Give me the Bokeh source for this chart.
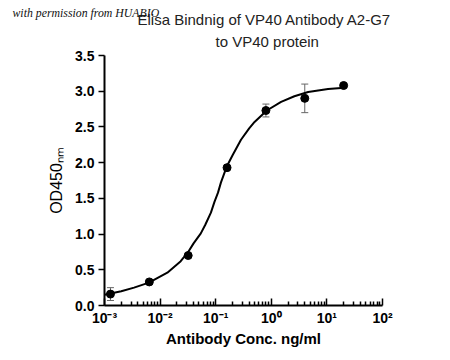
from bokeh.plotting import figure
from bokeh.models import FixedTicker, Whisker, ColumnDataSource, TeeHead, Title
from bokeh.embed import file_html
from bokeh.resources import INLINE

# ---- data ----
conc = [0.00128, 0.0064, 0.032, 0.16, 0.8, 4.0, 20.0]
od = [0.16, 0.33, 0.70, 1.93, 2.73, 2.90, 3.08]
sd = [0.09, 0.02, 0.02, 0.02, 0.09, 0.20, 0.02]

curve_x = [0.001, 0.002, 0.0034, 0.0063, 0.0135, 0.0235, 0.032, 0.04, 0.054, 0.065,
           0.082, 0.095, 0.11, 0.124, 0.159, 0.2, 0.285, 0.4, 0.5, 0.83,
           1.5, 2.6, 4.6, 10.5, 20.8]
curve_y = [0.15, 0.20, 0.25, 0.32, 0.46, 0.62, 0.75, 0.87, 1.01, 1.13,
           1.30, 1.45, 1.58, 1.72, 1.95, 2.10, 2.32, 2.48, 2.57, 2.73,
           2.85, 2.93, 2.99, 3.03, 3.05]

x_ticks = [1e-3, 1e-2, 1e-1, 1.0, 10.0, 100.0]
x_tick_labels = ["10\u207b\u00b3", "10\u207b\u00b2", "10\u207b\u00b9", "10\u2070", "10\u00b9", "10\u00b2"]
y_ticks = [0.0, 0.5, 1.0, 1.5, 2.0, 2.5, 3.0, 3.5]
y_tick_labels = ["0.0", "0.5", "1.0", "1.5", "2.0", "2.5", "3.0", "3.5"]

title_1 = "Elisa Bindnig of VP40 Antibody A2-G7"
title_2 = "to VP40 protein"
watermark = "with permission from HUABIO"
x_label = "Antibody Conc. ng/ml"
y_label = "OD450\u2099\u2098"

# ---- layout ----
FL, FR, FT, FB = 104, 66, 55, 53
FW, FH = 278, 250
p = figure(x_axis_type="log", x_range=(1e-3, 1e2), y_range=(0, 3.5),
           frame_width=FW, frame_height=FH,
           min_border_left=FL, min_border_right=FR,
           min_border_top=FT, min_border_bottom=FB,
           output_backend="svg", toolbar_location=None)
p.outline_line_color = None
p.xgrid.visible = False
p.ygrid.visible = False

# header texts: watermark (outermost), title line 1, title line 2 (closest to plot)
p.title.text = watermark
p.title.align = "left"
p.title.offset = -92
p.title.text_font = "Liberation Serif"
p.title.text_font_size = "11.8px"
p.title.text_font_style = "italic"
p.title.text_color = "#111111"
p.title.standoff = -15
p.add_layout(Title(text=title_2, align="left", offset=111, text_font="Liberation Sans",
                   text_font_size="15px", text_font_style="normal",
                   text_color="#222222", standoff=12), "above")
p.add_layout(Title(text=title_1, align="left", offset=33, text_font="Liberation Sans",
                   text_font_size="15px", text_font_style="normal",
                   text_color="#222222", standoff=-7), "above")

minor = [m * 10.0 ** e for e in range(-3, 2) for m in range(2, 10)]
p.xaxis.ticker = FixedTicker(ticks=x_ticks, minor_ticks=minor)
p.xaxis.major_label_overrides = {t: s for t, s in zip(x_ticks, x_tick_labels)}
p.yaxis.ticker = FixedTicker(ticks=y_ticks)
p.yaxis.major_label_overrides = {t: s for t, s in zip(y_ticks, y_tick_labels)}

for ax in (p.xaxis[0], p.yaxis[0]):
    ax.axis_line_width = 2
    ax.axis_line_color = "black"
    ax.major_tick_line_width = 1.5
    ax.minor_tick_line_width = 1.5
    ax.major_label_text_font = "Liberation Sans"
    ax.major_label_text_font_style = "bold"
    ax.major_label_text_font_size = "14px"
    ax.major_label_text_color = "black"

p.xaxis.major_tick_in = 7
p.xaxis.major_tick_out = 0
p.xaxis.minor_tick_in = 4
p.xaxis.minor_tick_out = 0
p.xaxis.major_label_standoff = 4
p.xaxis.axis_label = x_label
p.xaxis.axis_label_text_font = "Liberation Sans"
p.xaxis.axis_label_text_font_size = "15px"
p.xaxis.axis_label_text_font_style = "bold"
p.xaxis.axis_label_text_color = "black"
p.xaxis.axis_label_standoff = 1

p.yaxis.major_tick_in = 0
p.yaxis.major_tick_out = 6
p.yaxis.minor_tick_in = 0
p.yaxis.minor_tick_out = 0
p.yaxis.major_label_standoff = 4
p.yaxis.axis_label = y_label
p.yaxis.axis_label_text_font = "Liberation Sans"
p.yaxis.axis_label_text_font_size = "16px"
p.yaxis.axis_label_text_font_style = "normal"
p.yaxis.axis_label_text_color = "black"
p.yaxis.axis_label_standoff = 7

# ---- glyphs ----
p.line(curve_x, curve_y, line_color="black", line_width=2)

src = ColumnDataSource(dict(x=conc, y=od,
                            lo=[v - e for v, e in zip(od, sd)],
                            hi=[v + e for v, e in zip(od, sd)]))
p.add_layout(Whisker(source=src, base="x", lower="lo", upper="hi",
                     dimension="height", line_color="#666666", line_width=1,
                     upper_head=TeeHead(size=7, line_color="#666666", line_width=1),
                     lower_head=TeeHead(size=7, line_color="#666666", line_width=1)))
p.scatter("x", "y", source=src, size=8, fill_color="black", line_color="black")

open("out.html", "w").write(file_html(p, INLINE))
